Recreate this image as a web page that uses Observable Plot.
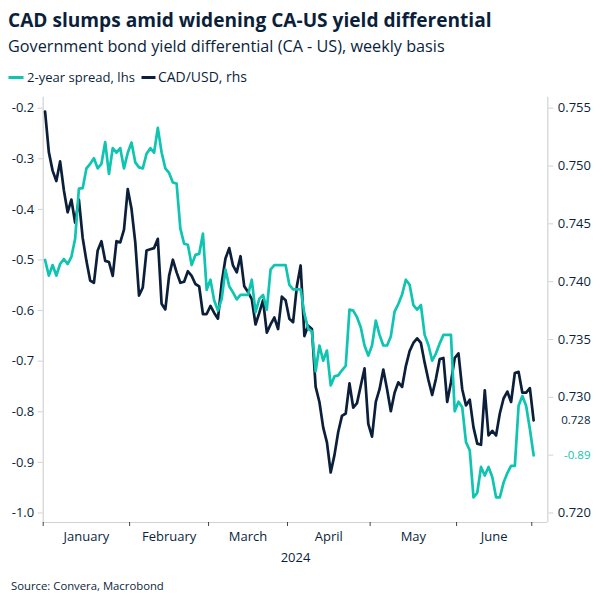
<!DOCTYPE html>
<html><head><meta charset="utf-8">
<script src="https://cdn.jsdelivr.net/npm/d3@7"></script>
<script src="https://cdn.jsdelivr.net/npm/@observablehq/plot@0.6"></script>
<style>
body{margin:0;background:#fff;}
#wrap{position:relative;width:604px;height:604px;overflow:hidden;background:#fff}
#chart{position:absolute;left:0;top:90px}
#overlay{position:absolute;left:0;top:0;pointer-events:none}
</style></head><body><div id="wrap"><div id="chart"></div></div>
<script>
// ---- data (business days, 1 Jan 2024 – 1 Jul 2024) ----
const spread = [-0.500,-0.531,-0.510,-0.531,-0.508,-0.498,-0.508,-0.494,-0.458,-0.359,
 -0.358,-0.319,-0.310,-0.299,-0.319,-0.310,-0.267,-0.330,-0.279,-0.288,
 -0.279,-0.319,-0.288,-0.268,-0.307,-0.317,-0.319,-0.290,-0.279,-0.288,
 -0.239,-0.287,-0.319,-0.328,-0.347,-0.349,-0.438,-0.468,-0.470,-0.510,
 -0.490,-0.488,-0.448,-0.559,-0.539,-0.580,-0.600,-0.577,-0.519,-0.552,
 -0.564,-0.578,-0.569,-0.569,-0.569,-0.539,-0.603,-0.577,-0.569,-0.598,
 -0.519,-0.510,-0.510,-0.510,-0.510,-0.549,-0.558,-0.558,-0.558,-0.606,
 -0.636,-0.641,-0.720,-0.669,-0.699,-0.679,-0.748,-0.730,-0.728,-0.718,
 -0.709,-0.598,-0.600,-0.613,-0.633,-0.669,-0.689,-0.669,-0.620,-0.648,
 -0.669,-0.669,-0.651,-0.602,-0.587,-0.568,-0.539,-0.549,-0.589,-0.598,
 -0.589,-0.648,-0.668,-0.699,-0.685,-0.665,-0.648,-0.648,-0.648,-0.799,
 -0.780,-0.791,-0.860,-0.876,-0.969,-0.960,-0.909,-0.926,-0.909,-0.929,
 -0.969,-0.969,-0.940,-0.921,-0.907,-0.907,-0.788,-0.769,-0.788,-0.834,
 -0.886];
const cadusd = [0.7547,0.7512,0.7496,0.7487,0.7504,0.7479,0.7460,0.7471,0.7451,0.7471,
 0.7438,0.7418,0.7401,0.7399,0.7427,0.7435,0.7418,0.7417,0.7405,0.7435,
 0.7434,0.7445,0.7480,0.7463,0.7434,0.7388,0.7395,0.7427,0.7428,0.7429,
 0.7437,0.7381,0.7376,0.7405,0.7419,0.7408,0.7399,0.7400,0.7409,0.7405,
 0.7398,0.7396,0.7372,0.7372,0.7379,0.7373,0.7368,0.7399,0.7420,0.7429,
 0.7414,0.7408,0.7422,0.7396,0.7391,0.7385,0.7363,0.7373,0.7384,0.7356,
 0.7363,0.7369,0.7359,0.7387,0.7384,0.7368,0.7365,0.7396,0.7414,0.7353,
 0.7362,0.7359,0.7309,0.7296,0.7274,0.7261,0.7235,0.7250,0.7270,0.7284,
 0.7286,0.7312,0.7291,0.7295,0.7310,0.7325,0.7277,0.7266,0.7296,0.7307,
 0.7324,0.7307,0.7288,0.7304,0.7313,0.7309,0.7327,0.7340,0.7347,0.7351,
 0.7347,0.7330,0.7315,0.7302,0.7316,0.7333,0.7334,0.7296,0.7313,0.7334,
 0.7338,0.7307,0.7293,0.7298,0.7274,0.7260,0.7259,0.7306,0.7267,0.7271,
 0.7267,0.7286,0.7299,0.7305,0.7296,0.7321,0.7322,0.7304,0.7304,0.7308,
 0.7280];
const months = ["January","February","March","April","May","June"];
const leftTicks = [-1.0,-0.9,-0.8,-0.7,-0.6,-0.5,-0.4,-0.3,-0.2];
const rightTicks = [0.720,0.725,0.730,0.735,0.740,0.745,0.750,0.755];
const rightHidden = [0.725]; // label covered by the end-value label in the reference
const yearLabel = "2024";
const seriesNames = ["2-year spread, lhs","CAD/USD, rhs"];
const titleText = "CAD slumps amid widening CA-US yield differential";
const subtitleText = "Government bond yield differential (CA - US), weekly basis";
const sourceText = "Source: Convera, Macrobond";

// ---- styling ----
const teal = "#0fc4b0", navy = "#0b1f3b", grid = "#d2d2d2";
const font = '"Open Sans", sans-serif';

// business days
const days = d3.utcDays(new Date(Date.UTC(2024,0,1)), new Date(Date.UTC(2024,6,2)))
  .filter(d => d.getUTCDay() % 6 !== 0);
const data = spread.map((s, i) => ({date: days[i], i, spread: s, cad: cadusd[i]}));
// right axis mapped onto left scale: -0.2 <-> 0.755, -1.0 <-> 0.720
const toL = r => -0.2 + (r - 0.755) * (0.8 / 0.035);
const toR = l => 0.755 + (l + 0.2) * (0.035 / 0.8);
const monthStart = [0,1,2,3,4,5,6].map(m => days.findIndex(d => d.getUTCMonth() === m));
const monthLabels = months.map((name, k) => ({name, mid: (monthStart[k] + monthStart[k+1]) / 2}));
const last = data[data.length - 1];

const chart = Plot.plot({
  width: 604, height: 514,
  marginLeft: 42.7, marginRight: 56.7, marginTop: 6.7, marginBottom: 82,
  x: {type: "linear", domain: [0, 134.27], label: null},
  y: {domain: [-1.0188, -0.1783], label: null},
  style: {fontFamily: font, fontSize: "13px", color: navy, background: "white", overflow: "visible"},
  marks: [
    Plot.ruleX([0], {stroke: grid, strokeWidth: 1.2}),
    Plot.ruleX([134.27], {stroke: grid, strokeWidth: 1.2}),
    Plot.ruleY([-1.0188], {stroke: grid, strokeWidth: 1.2}),
    Plot.axisY({anchor: "left", label: null, ticks: leftTicks, tickSize: 5, tickPadding: 4,
      tickFormat: d => d.toFixed(1), stroke: grid, fill: navy, fontSize: 13}),
    Plot.axisY({anchor: "right", label: null, ticks: rightTicks.map(toL), tickSize: 5, tickPadding: 5,
      tickFormat: d => { const r = toR(d); return rightHidden.some(h => Math.abs(h - r) < 1e-6) ? "" : r.toFixed(3); },
      stroke: grid, fill: navy, fontSize: 13}),
    Plot.axisX({label: null, ticks: monthStart, tickSize: 4, tickFormat: () => "", stroke: "#444"}),
    Plot.text(monthLabels, {x: "mid", text: "name", frameAnchor: "bottom", dy: 18, fill: navy, fontSize: 13}),
    Plot.text([yearLabel], {text: d => d, frameAnchor: "bottom", dy: 39, fill: navy, fontSize: 13}),
    Plot.line(data, {x: d => d.i + 0.5, y: d => toL(d.cad), stroke: navy, strokeWidth: 2.7}),
    Plot.line(data, {x: d => d.i + 0.5, y: "spread", stroke: teal, strokeWidth: 2.7}),
    Plot.text([last], {y: d => toL(d.cad), text: d => d.cad.toFixed(3), frameAnchor: "right", dx: 42.7,
      textAnchor: "end", fill: navy, fontSize: 11.5}),
    Plot.text([last], {y: "spread", text: d => d.spread.toFixed(2), frameAnchor: "right", dx: 42.7,
      textAnchor: "end", fill: teal, fontSize: 11.5})
  ]
});
document.getElementById("chart").appendChild(chart);

// ---- header / footer overlay ----
const svg = d3.select("#wrap").append("svg").attr("id","overlay")
  .attr("width",604).attr("height",604).style("font-family", font);
function fitText(x, y, str, size, width, weight, fill) {
  const t = svg.append("text").attr("x", x).attr("y", y).text(str)
    .attr("font-size", size).attr("font-weight", weight).attr("fill", fill);
  const w = t.node().getComputedTextLength();
  if (w > 0) t.attr("font-size", size * width / w);
  return t;
}
fitText(8, 27, titleText, 20, 484, 700, navy);
fitText(8, 52, subtitleText, 16, 437, 400, navy);
svg.append("rect").attr("x", 8.5).attr("y", 76).attr("width", 15).attr("height", 3).attr("fill", teal);
fitText(27, 82, seriesNames[0], 13.5, 108, 400, navy);
svg.append("rect").attr("x", 141.5).attr("y", 76).attr("width", 14).attr("height", 3).attr("fill", navy);
fitText(158, 82, seriesNames[1], 13.5, 89, 400, navy);
fitText(11, 590, sourceText, 12, 153, 400, navy);
</script></body></html>
